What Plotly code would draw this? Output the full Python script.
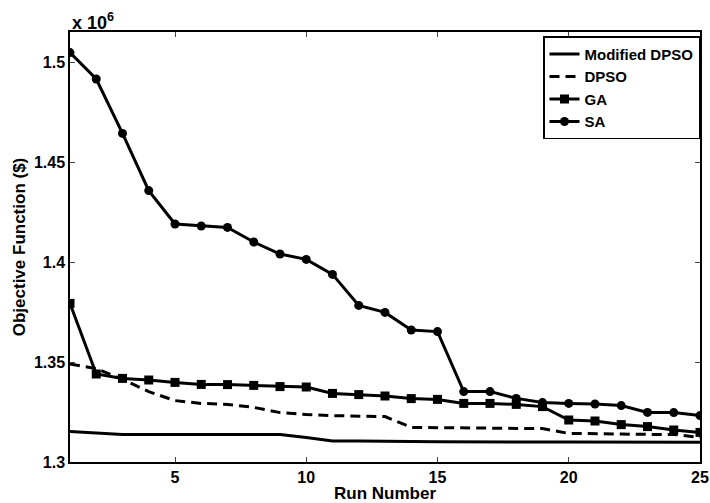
import plotly.graph_objects as go

runs = list(range(1, 26))

modified_dpso = [1.3153, 1.3147, 1.3138, 1.3138, 1.3138, 1.3138, 1.3138, 1.3138, 1.3138,
                 1.3122, 1.3105, 1.3105, 1.3105, 1.3103, 1.3101, 1.3100, 1.3100, 1.3100,
                 1.3100, 1.3100, 1.3100, 1.3100, 1.3100, 1.3100, 1.3099]
dpso = [1.3490, 1.3467, 1.3413, 1.3352, 1.3307, 1.3293, 1.3288, 1.3273, 1.3247,
        1.3237, 1.3232, 1.3228, 1.3227, 1.3173, 1.3172, 1.3172, 1.3172, 1.3170,
        1.3167, 1.3143, 1.3140, 1.3140, 1.3138, 1.3138, 1.3123]
ga = [1.3793, 1.3440, 1.3418, 1.3410, 1.3398, 1.3388, 1.3387, 1.3383, 1.3377,
      1.3375, 1.3343, 1.3337, 1.3330, 1.3317, 1.3313, 1.3293, 1.3293, 1.3288,
      1.3277, 1.3210, 1.3205, 1.3187, 1.3177, 1.3160, 1.3148]
sa = [1.5047, 1.4915, 1.4643, 1.4357, 1.4190, 1.4180, 1.4173, 1.4100, 1.4040,
      1.4013, 1.3938, 1.3783, 1.3748, 1.3660, 1.3652, 1.3352, 1.3352, 1.3318,
      1.3297, 1.3293, 1.3290, 1.3282, 1.3248, 1.3247, 1.3232]

y_ticks = [1.3, 1.35, 1.4, 1.45, 1.5]
y_tick_labels = ["1.3", "1.35", "1.4", "1.45", "1.5"]
x_ticks = [5, 10, 15, 20, 25]

fig = go.Figure()
lw = 3
fig.add_trace(go.Scatter(x=runs, y=modified_dpso, mode="lines", name="Modified DPSO",
                         line=dict(color="black", width=lw)))
fig.add_trace(go.Scatter(x=runs, y=dpso, mode="lines", name="DPSO",
                         line=dict(color="black", width=lw, dash="10px,6px")))
fig.add_trace(go.Scatter(x=runs, y=ga, mode="lines+markers", name="GA",
                         line=dict(color="black", width=lw),
                         marker=dict(symbol="square", size=9, color="black")))
fig.add_trace(go.Scatter(x=runs, y=sa, mode="lines+markers", name="SA",
                         line=dict(color="black", width=lw),
                         marker=dict(symbol="circle", size=9, color="black")))

font_family = "Liberation Sans, Arial, sans-serif"
tick_font = dict(size=16, family=font_family, weight="bold", color="black")
title_font = dict(size=17, family=font_family, weight="bold", color="black")
fig.update_layout(
    width=710, height=503,
    margin=dict(l=70, r=10, t=32, b=41),
    paper_bgcolor="white", plot_bgcolor="white",
    font=dict(family=font_family, color="black", size=16),
    showlegend=True,
    legend=dict(x=1.0, y=0.99, xanchor="right", yanchor="top",
                bgcolor="white", bordercolor="black", borderwidth=1.5,
                font=dict(size=15, family=font_family, weight="bold"),
                tracegroupgap=0, itemwidth=30),
    xaxis=dict(range=[1, 25], tickvals=x_ticks, ticks="inside", ticklen=5,
               showline=True, linecolor="black", linewidth=1.5, mirror="ticks",
               showgrid=False, zeroline=False, automargin=False,
               tickfont=tick_font,
               title=dict(text="Run Number", standoff=0, font=title_font)),
    yaxis=dict(range=[1.3, 1.515], tickvals=y_ticks, ticktext=y_tick_labels,
               ticks="inside", ticklen=5,
               showline=True, linecolor="black", linewidth=1.5, mirror="ticks",
               showgrid=False, zeroline=False, automargin=False,
               tickfont=tick_font,
               title=dict(text="Objective Function ($)", standoff=4, font=title_font)),
)
fig.add_annotation(text="<b>x 10<sup>6</sup></b>", xref="paper", yref="paper", x=0, y=1,
                   xanchor="left", yanchor="bottom", showarrow=False, yshift=-3,
                   font=dict(size=18, family=font_family, color="black"))

fig.write_html("out.html")
